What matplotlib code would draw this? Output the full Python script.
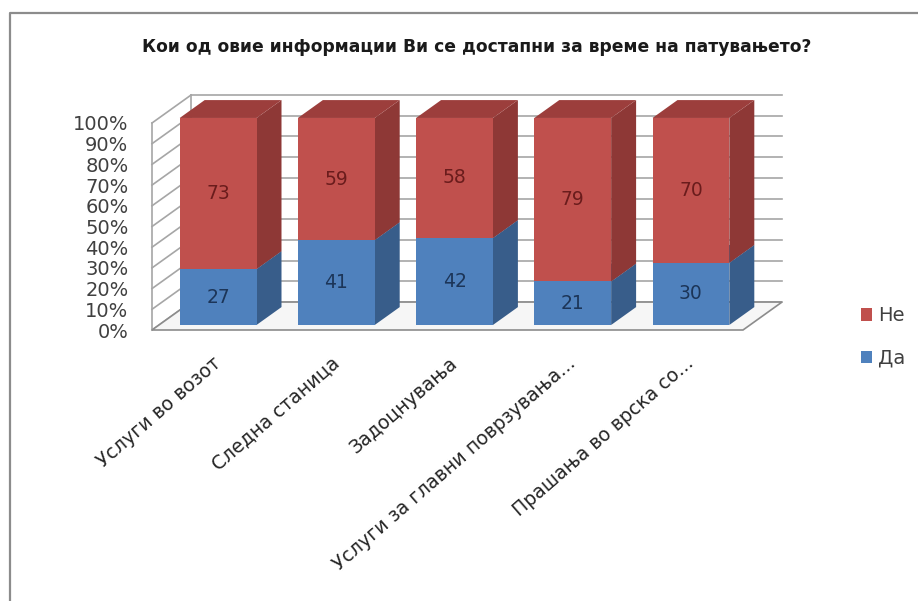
import matplotlib.pyplot as plt
from matplotlib.patches import Polygon, Patch
from matplotlib.lines import Line2D

title = 'Кои од овие информации Ви се достапни за време на патувањето?'
categories = ['Услуги во возот', 'Следна станица', 'Задоцнувања',
              'Услуги за главни поврзувања...', 'Прашања во врска со...']
da = [27, 41, 42, 21, 30]
ne = [73, 59, 58, 79, 70]
yticks = [0, 10, 20, 30, 40, 50, 60, 70, 80, 90, 100]

# oblique depth of the box (category units, percent units)
DX, DY = 0.33, 13.5
F0, F1 = 0.18, 0.82   # front / back of the columns as a fraction of the depth
W = 0.65

red = ('#C0504D', '#8E3836', '#9C3E3C')
blue = ('#4F81BD', '#385D8A', '#44709F')
grid = '#a6a6a6'

fig = plt.figure(figsize=(9.18, 6.01), dpi=100)
ax = fig.add_axes([152 / 918, 1 - 330 / 601, (743 - 152) / 918, (330 - 123) / 601])
ax.set_xlim(-0.5, 4.5)
ax.set_ylim(0, 100)
for s in ax.spines.values():
    s.set_visible(False)
ax.patch.set_visible(False)

x0, x1 = -0.5, 4.5
# walls and gridlines
for v in yticks:
    ax.plot([x0 + DX, x1 + DX], [v + DY, v + DY], color=grid, lw=1.2, clip_on=False, zorder=1)
    ax.plot([x0, x0 + DX], [v, v + DY], color=grid, lw=1.2, clip_on=False, zorder=1)
ax.plot([x0, x0], [0, 100], color=grid, lw=1.2, clip_on=False, zorder=1)
ax.plot([x0 + DX, x0 + DX], [DY, 100 + DY], color=grid, lw=1.2, clip_on=False, zorder=1)
floor = Polygon([(x0, 0), (x1, 0), (x1 + DX, DY), (x0 + DX, DY)], closed=True,
                facecolor='#f6f6f6', edgecolor='#8c8c8c', lw=1.2, clip_on=False, zorder=2)
ax.add_patch(floor)


def column(xc, bottom, h, cols, z):
    front, side, top = cols
    ox, oy = F0 * DX, F0 * DY
    dx, dy = (F1 - F0) * DX, (F1 - F0) * DY
    l, r = xc - W / 2 + ox, xc + W / 2 + ox
    b, t = bottom + oy, bottom + h + oy
    ax.add_patch(Polygon([(r, b), (r + dx, b + dy), (r + dx, t + dy), (r, t)],
                         facecolor=side, edgecolor='none', clip_on=False, zorder=z))
    ax.add_patch(Polygon([(l, t), (r, t), (r + dx, t + dy), (l + dx, t + dy)],
                         facecolor=top, edgecolor='none', clip_on=False, zorder=z))
    ax.add_patch(Polygon([(l, b), (r, b), (r, t), (l, t)],
                         facecolor=front, edgecolor='none', clip_on=False, zorder=z))


for i in range(len(categories)):
    column(i, 0, da[i], blue, 3)
    column(i, da[i], ne[i], red, 4)
    xc = i + F0 * DX
    ax.text(xc, da[i] / 2 + F0 * DY, str(da[i]), ha='center', va='center',
            fontsize=13.5, color='#1c3558', zorder=5)
    ax.text(xc, da[i] + ne[i] / 2 + F0 * DY, str(ne[i]), ha='center', va='center',
            fontsize=13.5, color='#6a1c1c', zorder=5)

ax.set_yticks(yticks, labels=[f'{v}%' for v in yticks])
ax.tick_params(axis='y', length=0, pad=17, labelsize=14, labelcolor='#404040')
ax.set_xticks([i + 0.01 for i in range(len(categories))], labels=categories)
ax.tick_params(axis='x', length=0, pad=17, labelsize=13.6, labelcolor='#262626')
for lab in ax.get_xticklabels():
    lab.set_rotation(41)
    lab.set_ha('right')
    lab.set_rotation_mode('anchor')

fig.text(477 / 918, 1 - 47 / 601, title, ha='center', va='center',
         fontsize=12.3, fontweight='bold', color='#1a1a1a')

handles = [Patch(facecolor=red[0]), Patch(facecolor=blue[0])]
fig.legend(handles, ['Не', 'Да'], loc='center left', bbox_to_anchor=(851 / 918, 1 - 337 / 601),
           frameon=False, fontsize=14, handlelength=0.6, handleheight=0.6,
           handletextpad=0.3, labelspacing=1.2, borderpad=0, labelcolor='#404040')

# chart frame
fig.add_artist(Line2D([9.5 / 918, 9.5 / 918, 1.0], [0.0, 1 - 13 / 601, 1 - 13 / 601],
                      transform=fig.transFigure, color='#8c8c8c', lw=1.6))

fig.savefig('out.png', dpi=100)
